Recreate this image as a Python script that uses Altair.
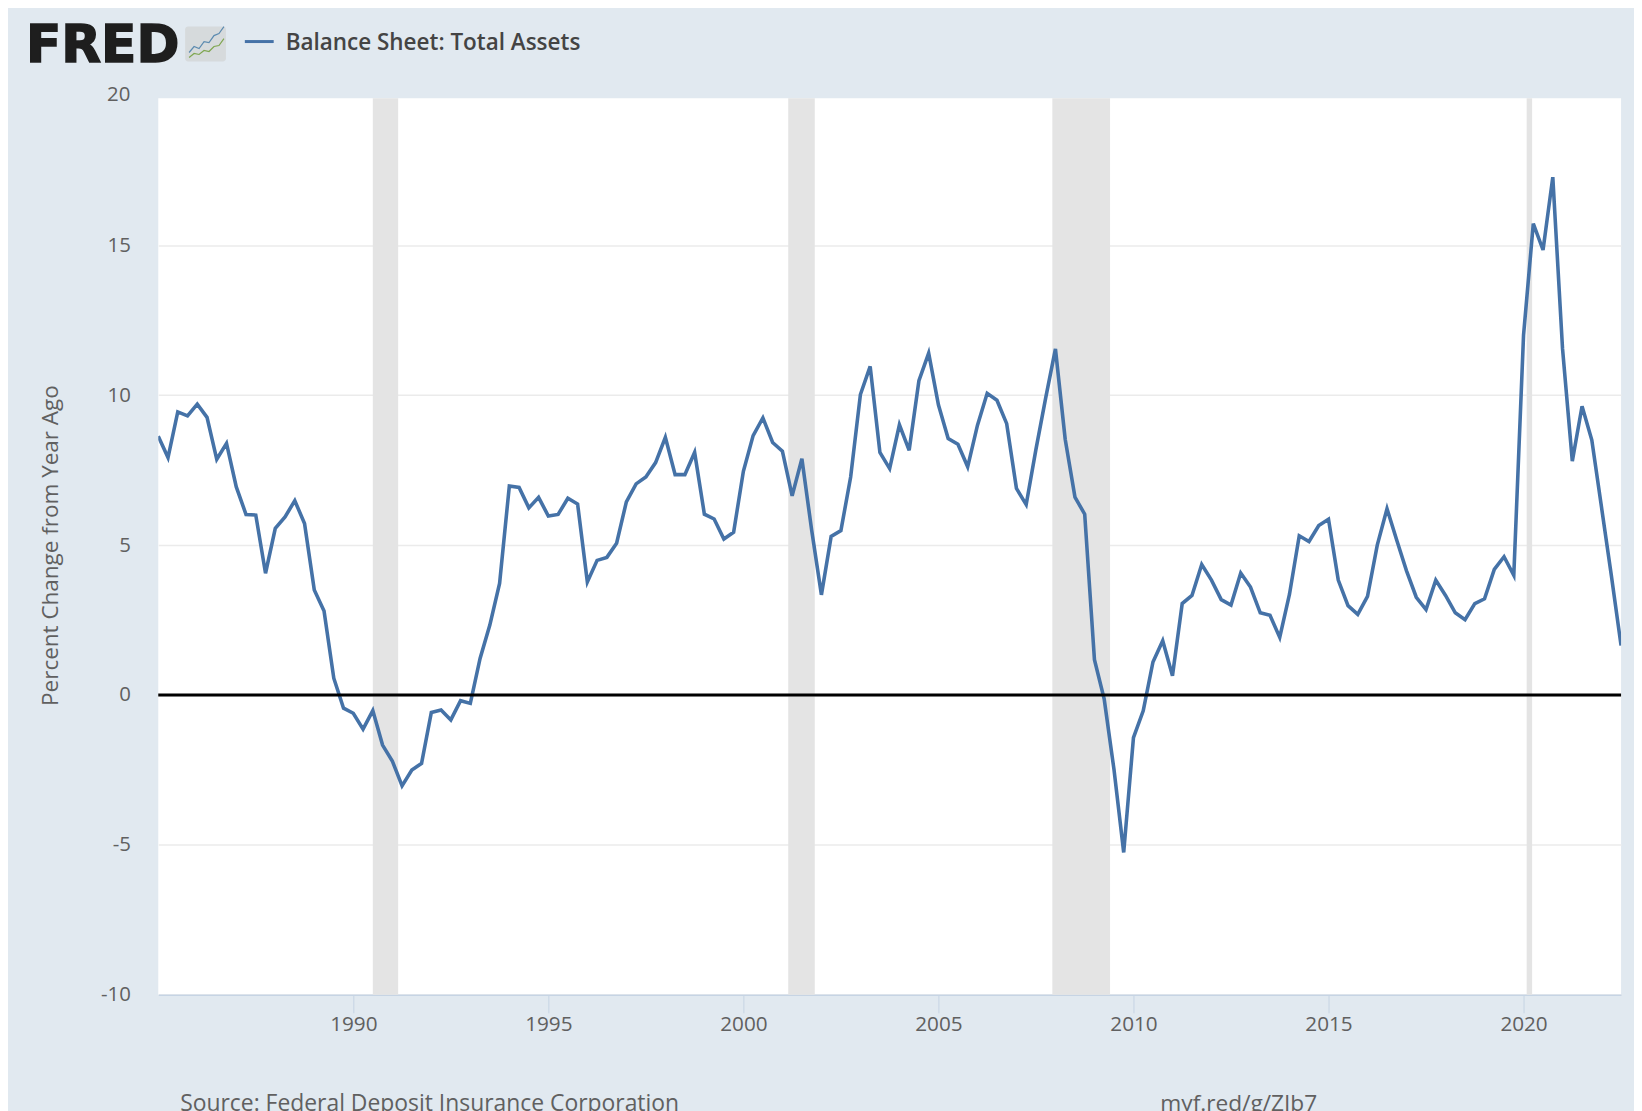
import altair as alt
import pandas as pd

# Quarterly percent change from year ago, 1985 Q1 to 2022 Q3
values = [
    8.63, 7.92, 9.44, 9.31, 9.70, 9.26, 7.86, 8.39, 6.94, 6.02, 6.00, 4.06,
    5.56, 5.94, 6.48, 5.72, 3.50, 2.80, 0.56, -0.44, -0.61, -1.14, -0.52, -1.67,
    -2.20, -3.03, -2.50, -2.28, -0.58, -0.50, -0.83, -0.19, -0.28, 1.22, 2.33, 3.72,
    6.97, 6.92, 6.24, 6.59, 5.97, 6.02, 6.56, 6.37, 3.77, 4.49, 4.59, 5.06,
    6.44, 7.04, 7.27, 7.75, 8.59, 7.35, 7.35, 8.09, 6.03, 5.87, 5.20, 5.43,
    7.46, 8.65, 9.24, 8.42, 8.13, 6.64, 7.88, 5.50, 3.34, 5.29, 5.48, 7.27,
    10.02, 10.96, 8.09, 7.55, 9.01, 8.16, 10.48, 11.40, 9.68, 8.55, 8.36, 7.61,
    8.99, 10.06, 9.83, 9.05, 6.89, 6.35, 8.19, 9.91, 11.54, 8.53, 6.60, 6.03,
    1.18, -0.14, -2.48, -5.25, -1.42, -0.53, 1.10, 1.81, 0.64, 3.05, 3.32, 4.35,
    3.83, 3.18, 3.00, 4.07, 3.60, 2.74, 2.66, 1.92, 3.36, 5.31, 5.12, 5.65,
    5.86, 3.83, 2.98, 2.69, 3.29, 5.00, 6.21, 5.16, 4.14, 3.26, 2.85, 3.83,
    3.32, 2.74, 2.51, 3.05, 3.21, 4.19, 4.61, 3.99, 12.00, 15.72, 14.84, 17.27,
    11.54, 7.80, 9.63, 8.50, 6.25, 3.99, 1.65,
]
years = [1985 + i * 0.25 for i in range(len(values))]
rec_start = [1990.5, 2001.15, 2007.92, 2020.08]
rec_end = [1991.15, 2001.83, 2009.4, 2020.22]
x_ticks = [1990, 1995, 2000, 2005, 2010, 2015, 2020]
y_ticks = [-10, -5, 0, 5, 10, 15]
icon_px = [3, 8, 13, 18, 23, 28, 33, 38]
icon_blue = [26, 20, 22, 15, 16, 9, 7, 0]
icon_green = [31, 27, 28, 24, 25, 20, 19, 12]

GREY = "#606060"
FONT = "Open Sans"
BG = "#e1e9f0"

df = pd.DataFrame({"year": years, "value": values})
rec = pd.DataFrame({"start": rec_start, "end": rec_end})

xs = alt.Scale(domain=[1985, 2022.5], nice=False, zero=False)
ys = alt.Scale(domain=[-10, 19.9], nice=False, zero=False)

recess = alt.Chart(rec).mark_rect(color="#e4e4e4").encode(
    x=alt.X("start:Q", scale=xs, axis=alt.Axis(
        values=x_ticks, format="d", title=None, grid=False, labelFontSize=20.8,
        labelColor=GREY, labelFont=FONT, tickColor="#c6d4e4", tickSize=18, tickWidth=1,
        domainColor="#c6d4e4", domainWidth=1.5, labelPadding=2, labelFlush=False, labelOverlap=False)),
    x2="end:Q",
)

# A layer that only carries the y axis and its grid
grid = alt.Chart(df).mark_point(opacity=0).encode(
    y=alt.Y("value:Q", scale=ys, axis=alt.Axis(
        values=y_ticks, title="Percent Change from Year Ago", grid=True, gridColor="#ebebeb",
        gridWidth=1.5, domain=False, ticks=False, labelFontSize=20.5, labelColor=GREY,
        labelFont=FONT, labelPadding=28, titleFont=FONT, titleFontSize=22.6,
        labelExpr="'' + datum.value",
        titleFontWeight="normal", titleColor=GREY, titleX=-108, titleY=449,
        titleBaseline="middle", titleAlign="center")),
)

line = alt.Chart(df).mark_line(color="#4572a7", strokeWidth=3.6, strokeJoin="miter", clip=True).encode(
    x=alt.X("year:Q", scale=xs), y=alt.Y("value:Q", scale=ys))

zero = alt.Chart(pd.DataFrame({"z": [0]})).mark_rule(color="#000000", strokeWidth=3).encode(
    y=alt.Y("z:Q", scale=ys))

top_label = alt.Chart(pd.DataFrame({"t": ["20"], "v": [20]})).mark_text(
    align="right", baseline="middle", font=FONT, fontSize=20.5, color=GREY
).encode(y=alt.Y("v:Q", scale=ys), x=alt.value(-28), text="t:N")


def note(txt, px, py, size=19.5, color=GREY, weight="normal", font=FONT, stroke=0):
    opts = {"stroke": color, "strokeWidth": stroke} if stroke else {}
    return alt.Chart(pd.DataFrame({"t": [txt]})).mark_text(
        align="left", baseline="middle", font=font, fontSize=size, color=color, fontWeight=weight, **opts
    ).encode(x=alt.value(px), y=alt.value(py), text="t:N")


logo = note("FRED", -133, -52.5, size=52, color="#1e1e1e", weight="bold", font="DejaVu Sans", stroke=1.5)
legend_text = note("Balance Sheet: Total Assets", 128, -56, size=22.6, color="#444444", weight=600)
source = note("Source: Federal Deposit Insurance Corporation", 22, 1011, size=23)
link = note("myf.red/g/ZIb7", 1007, 1011, size=22.8)

legend_line = alt.Chart(pd.DataFrame({"a": [0]})).mark_rule(color="#4572a7", strokeWidth=3).encode(
    x=alt.value(87), x2=alt.value(116), y=alt.value(-57))

icon_box = alt.Chart(pd.DataFrame({"a": [0]})).mark_rect(color="#d6dadc", cornerRadius=3).encode(
    x=alt.value(27), x2=alt.value(68), y=alt.value(-72), y2=alt.value(-37))

icon_df = pd.DataFrame({"px": icon_px, "blue": icon_blue, "green": icon_green})
icon_x = alt.X("sx:Q", scale=None)
icon_base = alt.Chart(icon_df).transform_calculate(
    sx="datum.px + 28", sb="datum.blue - 72", sg="datum.green - 72")
icon_b = icon_base.mark_line(color="#5c8bb0", strokeWidth=1.2).encode(x=icon_x, y=alt.Y("sb:Q", scale=None))
icon_g = icon_base.mark_line(color="#7fa650", strokeWidth=1.2).encode(x=icon_x, y=alt.Y("sg:Q", scale=None))

chart = alt.layer(
    grid, recess, line, zero, top_label, logo, icon_box, icon_b, icon_g,
    legend_line, legend_text, source, link,
).resolve_scale(x="shared", y="shared").properties(
    width=1470, height=901,
    padding={"left": 151, "top": 88, "right": 13, "bottom": 114},
    autosize=alt.AutoSizeParams(type="none"),
    background=BG,
).configure_view(fill="#ffffff", stroke=None)

chart.save("out.html", embed_options={"renderer": "svg", "actions": False})
